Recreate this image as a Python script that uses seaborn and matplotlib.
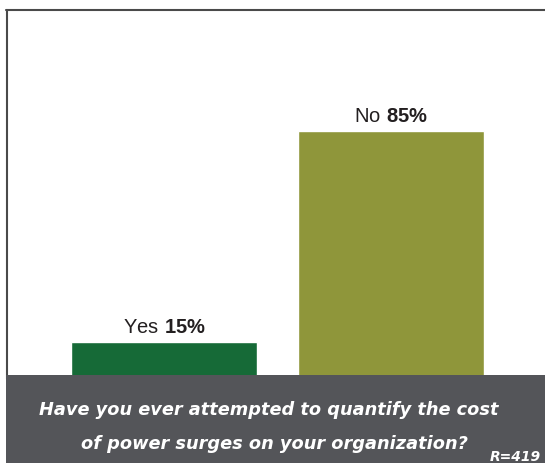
import matplotlib
matplotlib.use("Agg")
import matplotlib.pyplot as plt
from matplotlib.lines import Line2D
from matplotlib.patches import Rectangle
import seaborn as sns

# Survey answers
answers = ["Yes", "No"]
shares = [15, 85]
bar_colors = ["#166a37", "#8f963a"]
question_lines = [
    "Have you ever attempted to quantify the cost",
    "of power surges on your organization?",
]
respondents = "R=419"

sns.set_theme(style="white")
plt.rcParams["font.family"] = ["Liberation Sans", "DejaVu Sans"]
plt.rcParams["mathtext.fontset"] = "custom"
plt.rcParams["mathtext.rm"] = "Liberation Sans"
plt.rcParams["mathtext.bf"] = "Liberation Sans:bold"

W, H = 545, 464
fig = plt.figure(figsize=(W / 100, H / 100), dpi=100)
fig.patch.set_facecolor("white")


def fx(px):
    return px / W


def fy(py):
    return 1 - py / H


# plot area: baseline sits slightly below the top of the caption band
left_px, right_px, top_px, base_px = 6, 545, 11, 388
ax = fig.add_axes([fx(left_px), fy(base_px), fx(right_px - left_px), (base_px - top_px) / H])

sns.barplot(x=answers, y=shares, hue=answers, palette=bar_colors,
            width=0.82, saturation=1, legend=False, ax=ax)
ax.set_xlim(-0.696, 1.678)
ax.set_ylim(0, (base_px - top_px) / 3.01)
ax.axis("off")

for i, (ans, val) in enumerate(zip(answers, shares)):
    ax.annotate(r"$\mathrm{%s}\ \mathbf{%d\%%}$" % (ans, val),
                xy=(i, val), xytext=(0, 7), textcoords="offset points",
                ha="center", va="baseline", fontsize=14.5, color="#231f20")

# frame lines along top and left
lc = "#4a4a4a"
fig.add_artist(Line2D([fx(5.5), 1.0], [fy(10.5), fy(10.5)], color=lc, lw=1.5,
                      transform=fig.transFigure))
fig.add_artist(Line2D([fx(6.5), fx(6.5)], [fy(10.5), fy(380)], color=lc, lw=1.5,
                      transform=fig.transFigure))

# caption band
band = Rectangle((fx(6), 0), 1 - fx(6), fy(376), facecolor="#545559",
                 edgecolor="none", transform=fig.transFigure, zorder=3)
fig.add_artist(band)

qfont = ["DejaVu Sans"]
fig.text(fx(268.5), fy(415), question_lines[0], ha="center", va="baseline",
         fontsize=12.8, fontweight="bold", fontstyle="italic", color="white",
         family=qfont, zorder=4)
fig.text(fx(274), fy(449), question_lines[1], ha="center", va="baseline",
         fontsize=12.8, fontweight="bold", fontstyle="italic", color="white",
         family=qfont, zorder=4)
fig.text(fx(541), fy(461), respondents, ha="right", va="baseline",
         fontsize=10, fontweight="bold", fontstyle="italic", color="white",
         family=qfont, zorder=4)

fig.savefig("out.png", dpi=100)
